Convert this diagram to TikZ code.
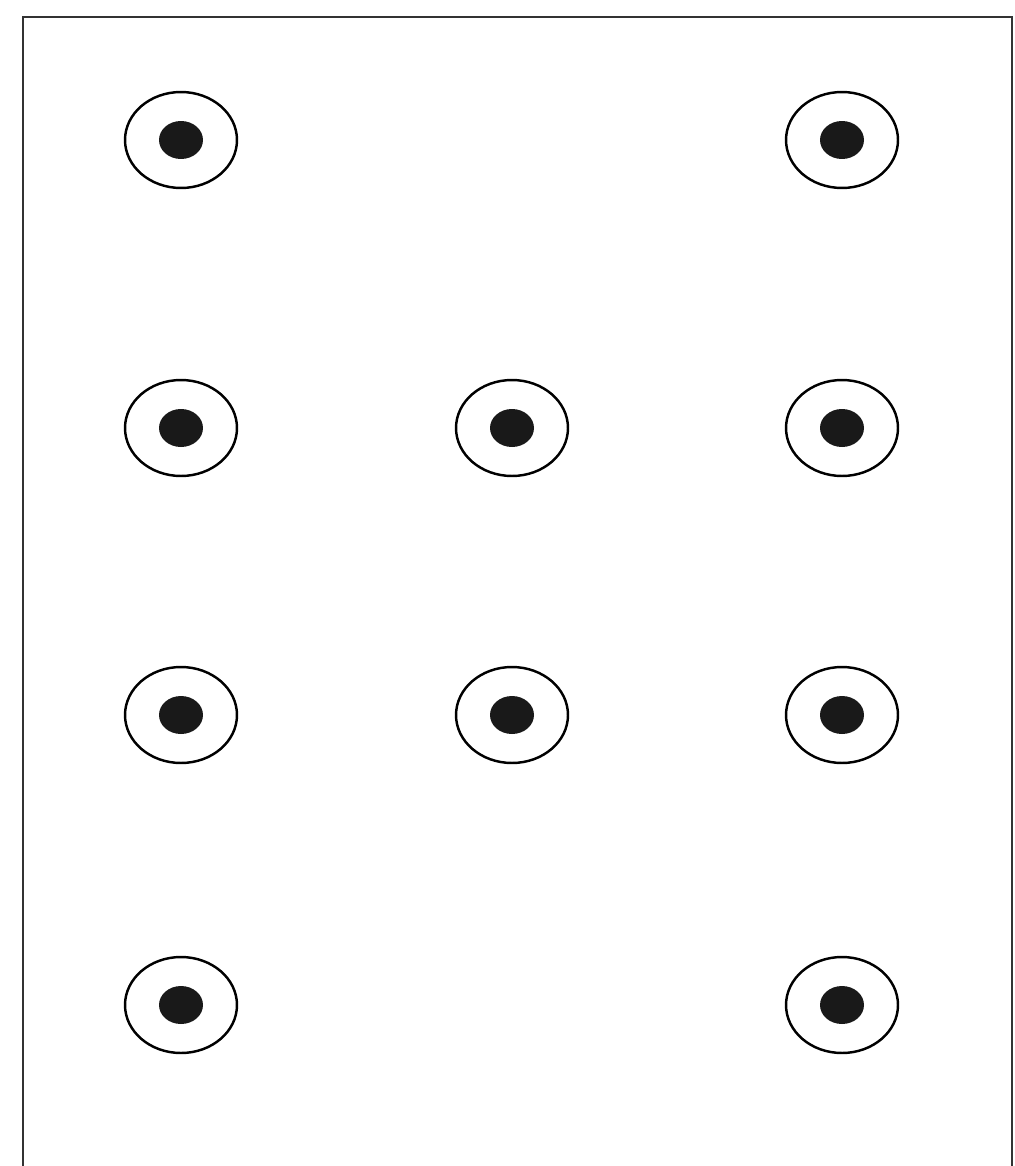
\documentclass[tikz,border=0pt]{standalone}
\usetikzlibrary{shapes.geometric}

\tikzset{
  ring/.style={draw, ellipse, line width=1.4pt, minimum width=2.24cm, minimum height=1.92cm, inner sep=0pt},
  dot/.style={fill=black!90, ellipse, minimum width=0.88cm, minimum height=0.76cm, inner sep=0pt}
}

\begin{document}
\begin{tikzpicture}[x=0.02cm, y=-0.02cm, line width=1.1pt]
  \useasboundingbox (0,0) rectangle (1014,1166);

  % open frame
  \draw[black!80] (23,1166) -- (23,17) -- (1012,17) -- (1012,1166);

  % targets
  \foreach \x/\y/\n in {181/140/a1, 842/140/a3,
                        181/428/b1, 512/428/b2, 842/428/b3,
                        181/715/c1, 512/715/c2, 842/715/c3,
                        181/1005/d1, 842/1005/d3} {
    \node[ring] (ring\n) at (\x,\y) {};
    \node[dot] (dot\n) at (ring\n.center) {};
  }
\end{tikzpicture}
\end{document}
